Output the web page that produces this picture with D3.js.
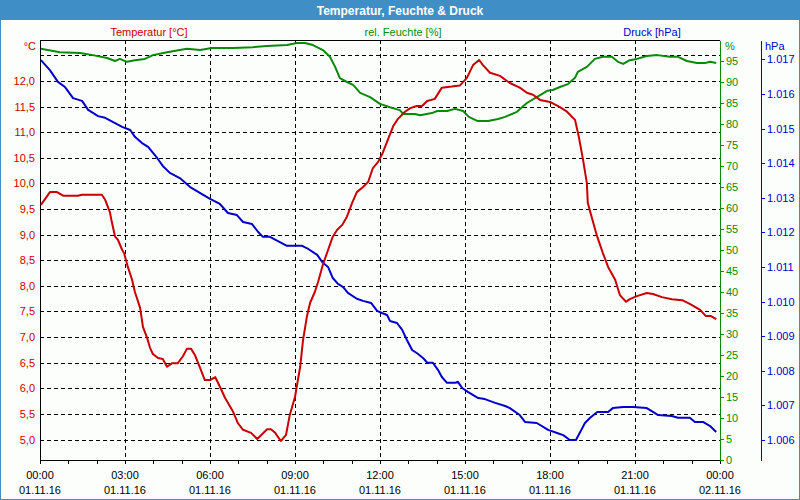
<!DOCTYPE html>
<html><head><meta charset="utf-8">
<script src="https://cdn.jsdelivr.net/npm/d3@7"></script>
<style>
html,body{margin:0;padding:0;background:#fcfefc;}
svg{display:block;font-family:"Liberation Sans",Arial,sans-serif;}
</style></head>
<body><svg id="c" width="800" height="500"></svg>
<script>
// ---- data (minutes since 01.11.16 00:00) ----
const tempTimes = [2,21,36,49,80,89,112,131,138,148,152,159,165,174,178,186,195,201,212,218,227,233,239,250,260,269,280,292,303,311,320,328,339,349,360,371,381,392,409,419,430,447,460,481,489,498,510,521,529,540,551,557,565,572,582,589,599,610,620,629,640,650,661,671,684,695,705,716,726,739,748,758,773,784,798,809,820,836,851,872,889,904,917,930,938,953,974,995,1016,1031,1044,1059,1080,1101,1116,1133,1141,1150,1158,1160,1171,1180,1192,1203,1218,1228,1241,1249,1264,1285,1298,1317,1338,1360,1376,1398,1410,1421,1432];
const tempValues = [9.58,9.83,9.83,9.76,9.76,9.78,9.78,9.78,9.68,9.44,9.25,8.96,8.90,8.70,8.64,8.37,8.12,7.88,7.57,7.20,6.98,6.79,6.67,6.59,6.57,6.42,6.49,6.49,6.63,6.77,6.77,6.65,6.40,6.16,6.16,6.22,6.03,5.81,5.54,5.32,5.19,5.13,5.01,5.20,5.20,5.13,4.97,5.09,5.48,5.83,6.42,6.94,7.39,7.67,7.88,8.08,8.41,8.70,8.96,9.09,9.19,9.35,9.62,9.83,9.93,10.03,10.30,10.42,10.60,10.91,11.12,11.26,11.40,11.47,11.51,11.51,11.61,11.65,11.87,11.89,11.91,12.06,12.31,12.41,12.31,12.16,12.10,11.96,11.87,11.77,11.73,11.63,11.59,11.49,11.40,11.24,10.91,10.46,10.01,9.62,9.25,8.96,8.64,8.37,8.12,7.82,7.69,7.74,7.80,7.86,7.84,7.78,7.74,7.72,7.65,7.53,7.41,7.41,7.35];

const humTimes = [2,42,85,112,142,159,169,184,201,222,239,269,311,339,364,409,451,481,523,544,561,578,599,614,625,635,650,663,678,699,720,741,762,769,794,805,830,841,862,879,896,908,927,949,970,985,1010,1031,1059,1074,1086,1101,1118,1133,1139,1158,1175,1192,1211,1224,1235,1249,1264,1285,1307,1334,1351,1370,1391,1408,1419,1432];
const humValues = [97.9,97.1,96.9,96.4,95.7,95.0,95.5,94.8,95.2,95.5,96.4,97.1,97.9,97.6,98.1,98.1,98.3,98.6,98.8,99.3,99.3,98.8,97.6,96.0,93.6,90.9,90.0,89.3,87.4,86.4,84.8,84.0,83.3,82.4,82.4,82.1,82.6,83.1,83.1,83.6,83.1,81.7,80.7,80.7,81.2,81.7,82.9,85.0,86.9,87.9,88.1,88.8,89.5,91.0,92.4,93.6,95.5,96.0,96.0,94.8,94.3,95.2,95.5,96.2,96.4,96.0,96.0,95.0,94.5,94.5,94.8,94.5];

const pressTimes = [2,21,38,53,70,89,102,123,138,159,174,191,201,216,229,248,260,275,296,318,335,360,381,398,417,430,449,462,472,487,508,523,555,568,587,599,610,620,631,642,652,671,684,701,714,724,735,741,756,767,777,788,800,811,820,832,843,851,862,879,885,894,906,928,942,964,985,995,1016,1027,1052,1076,1095,1108,1122,1135,1144,1154,1165,1180,1203,1213,1235,1256,1285,1298,1309,1338,1351,1376,1387,1404,1419,1432];
const pressValues = [1016.98,1016.69,1016.35,1016.20,1015.88,1015.80,1015.54,1015.36,1015.31,1015.16,1015.05,1014.96,1014.76,1014.58,1014.47,1014.15,1013.92,1013.72,1013.57,1013.31,1013.17,1012.97,1012.82,1012.56,1012.50,1012.30,1012.24,1012.01,1011.87,1011.87,1011.72,1011.61,1011.61,1011.52,1011.35,1011.12,1011.00,1010.68,1010.51,1010.42,1010.25,1010.08,1010.02,1009.96,1009.73,1009.67,1009.61,1009.44,1009.38,1009.18,1008.89,1008.60,1008.49,1008.37,1008.23,1008.23,1008.02,1007.82,1007.65,1007.65,1007.68,1007.50,1007.39,1007.21,1007.18,1007.07,1006.98,1006.92,1006.72,1006.52,1006.49,1006.29,1006.20,1006.14,1006.00,1006.00,1006.23,1006.49,1006.64,1006.81,1006.81,1006.92,1006.95,1006.95,1006.92,1006.81,1006.72,1006.69,1006.64,1006.64,1006.52,1006.52,1006.40,1006.23];

const xTickMinutes = [0,180,360,540,720,900,1080,1260,1440];
const xTimeLabels = ["00:00","03:00","06:00","09:00","12:00","15:00","18:00","21:00","00:00"];
const xDateLabels = ["01.11.16","01.11.16","01.11.16","01.11.16","01.11.16","01.11.16","01.11.16","01.11.16","02.11.16"];
const tempTicks = [5,5.5,6,6.5,7,7.5,8,8.5,9,9.5,10,10.5,11,11.5,12];
const tempGrid = [5,5.5,6,6.5,7,7.5,8,8.5,9,9.5,10,10.5,11,11.5,12,12.5];
const humTicks = [0,5,10,15,20,25,30,35,40,45,50,55,60,65,70,75,80,85,90,95];
const pressTicks = [1006,1007,1008,1009,1010,1011,1012,1013,1014,1015,1016,1017];
const title = "Temperatur, Feuchte & Druck";
const seriesLabels = ["Temperatur [°C]","rel. Feuchte [%]","Druck [hPa]"];

// ---- drawing ----
const RED="#c80000", GREEN="#088a08", BLUE="#0000c8";
const svg = d3.select("#c");
const L=40,R=720,T=40,B=460;
const x = d3.scaleLinear().domain([0,1440]).range([L,R]);
const yT = d3.scaleLinear().domain([4.6,12.8]).range([B,T]);
const yH = d3.scaleLinear().domain([0,100]).range([B,T]);
const yP = d3.scaleLinear().domain([1005.42,1017.56]).range([B,T]);
const de = d3.formatLocale({decimal:",",thousands:".",grouping:[3],currency:["","€"]});

svg.append("rect").attr("x",0).attr("y",0).attr("width",800).attr("height",500).attr("fill","#fcfefc");
// title bar and border
svg.append("rect").attr("x",0).attr("y",0).attr("width",800).attr("height",20).attr("fill","#3f8fc6");
svg.append("rect").attr("x",0.5).attr("y",0.5).attr("width",799).attr("height",499).attr("fill","none").attr("stroke","#3f8fc6");
svg.append("text").attr("x",400).attr("y",14.5).attr("text-anchor","middle").attr("fill","#fff")
  .attr("font-size",12).attr("font-weight","bold").text(title);

// series header labels
const hdr = [[149,RED],[403,GREEN],[652,BLUE]];
seriesLabels.forEach((s,i)=>svg.append("text").attr("x",hdr[i][0]).attr("y",36).attr("text-anchor","middle")
  .attr("fill",hdr[i][1]).attr("font-size",11).text(s));

// grid
const g = svg.append("g").attr("stroke","#000").attr("stroke-dasharray","4,3").attr("shape-rendering","crispEdges");
tempGrid.forEach(v=>g.append("line").attr("x1",L).attr("x2",R).attr("y1",Math.round(yT(v))+0.5).attr("y2",Math.round(yT(v))+0.5));
xTickMinutes.slice(1,-1).forEach(m=>g.append("line").attr("y1",T).attr("y2",B).attr("x1",Math.round(x(m))+0.5).attr("x2",Math.round(x(m))+0.5));

// temperature axis (left)
const ax = svg.append("g").attr("transform",`translate(${L},0)`)
  .call(d3.axisLeft(yT).tickValues(tempTicks).tickSize(0).tickPadding(5).tickFormat(d=>de.format(".1f")(d)));
ax.select(".domain").attr("stroke","#000");
ax.selectAll("text").attr("fill",RED).attr("font-size",11).attr("font-family","Liberation Sans, Arial, sans-serif");
svg.append("text").attr("x",36).attr("y",50).attr("text-anchor","end").attr("fill",RED).attr("font-size",11).text("°C");

// top line
svg.append("line").attr("x1",L).attr("x2",R).attr("y1",T+0.5).attr("y2",T+0.5).attr("stroke","#000");

// bottom axis
const bx = svg.append("g").attr("transform",`translate(0,${B})`)
  .call(d3.axisBottom(x).tickValues(d3.range(0,1441,60)).tickSize(4).tickFormat(""));
bx.selectAll("path,line").attr("stroke","#000").attr("shape-rendering","crispEdges");
xTickMinutes.forEach((m,i)=>{
  svg.append("text").attr("x",x(m)).attr("y",479).attr("text-anchor","middle").attr("font-size",11).attr("fill","#000").text(xTimeLabels[i]);
  svg.append("text").attr("x",x(m)).attr("y",494).attr("text-anchor","middle").attr("font-size",11).attr("fill","#000").text(xDateLabels[i]);
});

// humidity axis (right)
const hx = svg.append("g").attr("transform",`translate(${R},0)`)
  .call(d3.axisRight(yH).tickValues(humTicks).tickSize(4).tickPadding(2).tickSizeOuter(0));
hx.selectAll("path,line").attr("stroke",GREEN).attr("shape-rendering","crispEdges");
hx.selectAll("text").attr("fill",GREEN).attr("font-size",11).attr("font-family","Liberation Sans, Arial, sans-serif");
svg.append("text").attr("x",725).attr("y",50).attr("fill",GREEN).attr("font-size",11).text("%");

// pressure axis
const px = svg.append("g").attr("transform",`translate(761,0)`)
  .call(d3.axisRight(yP).tickValues(pressTicks).tickSize(4).tickPadding(2).tickSizeOuter(0).tickFormat(de.format(",d")));
px.selectAll("path,line").attr("stroke",BLUE).attr("shape-rendering","crispEdges");
px.selectAll("text").attr("fill",BLUE).attr("font-size",11).attr("font-family","Liberation Sans, Arial, sans-serif");
svg.append("text").attr("x",765).attr("y",50).attr("fill",BLUE).attr("font-size",11).text("hPa");

// lines
function series(times, vals, yS, col){
  const pts = times.map((t,i)=>[t,vals[i]]);
  svg.append("path").datum(pts).attr("fill","none").attr("stroke",col).attr("stroke-width",2)
    .attr("stroke-linejoin","round")
    .attr("d",d3.line().x(d=>x(d[0])).y(d=>yS(d[1])));
}
series(pressTimes, pressValues, yP, BLUE);
series(humTimes, humValues, yH, GREEN);
series(tempTimes, tempValues, yT, RED);
</script></body></html>
